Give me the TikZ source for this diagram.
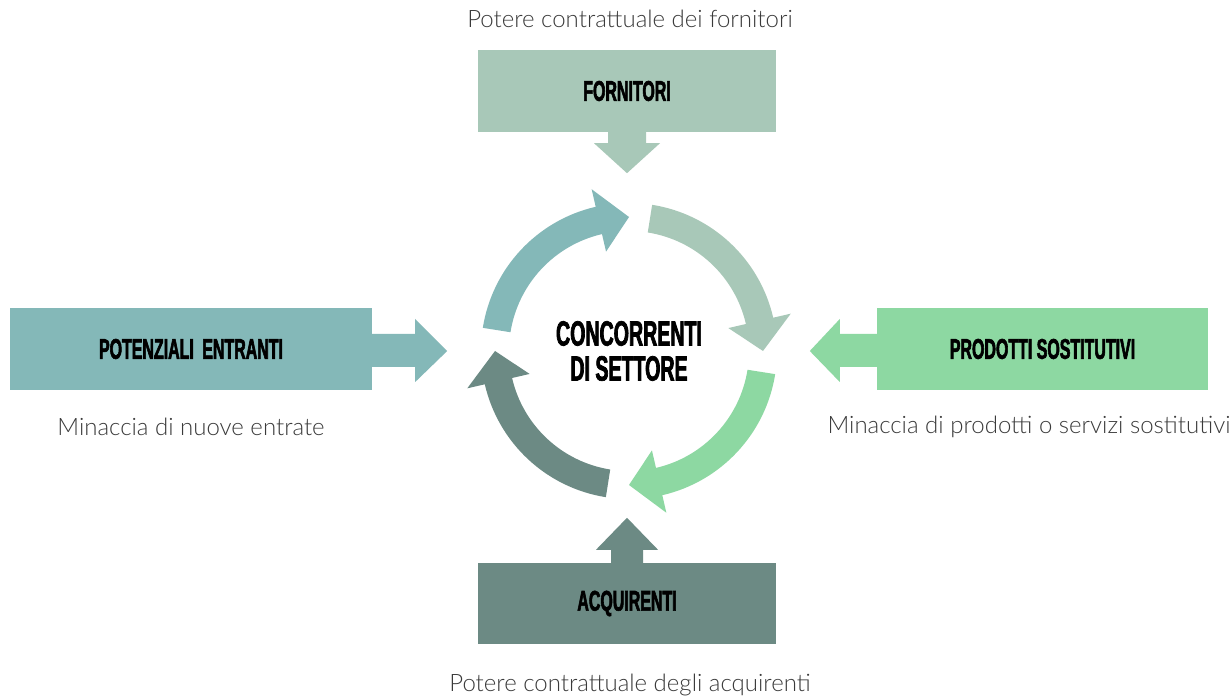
\documentclass[tikz,border=0pt]{standalone}
\usepackage{fontspec}
\usetikzlibrary{calc}
% Condensed heavy face for the box titles
\newfontfamily\titlefont{Liberation Sans}[FakeStretch=0.56,FakeBold=2]
% Thin face for the captions
\IfFontExistsTF{Lato Light}{\newfontfamily\labelfont{Lato Light}}{\newfontfamily\labelfont{Lato}}

\definecolor{tealc}{HTML}{84B8B8}
\definecolor{sagec}{HTML}{A8C8B8}
\definecolor{greenc}{HTML}{8DD8A2}
\definecolor{slatec}{HTML}{6C8A84}
\definecolor{capc}{HTML}{3A3A3A}

\tikzset{
  forcebox/.style={rectangle, inner sep=0pt, text=black,
    font=\titlefont\bfseries\fontsize{28.5}{30}\selectfont},
  caption/.style={text=capc, inner sep=0pt, font=\labelfont\fontsize{24}{28}\selectfont},
}

\begin{document}
\begin{tikzpicture}[x=1pt,y=1pt]
\useasboundingbox (0,0) rectangle (1232,696);
\fill[white] (0,0) rectangle (1232,696);

% the four forces
\node[forcebox, fill=sagec,  minimum width=298pt, minimum height=82pt] (forn) at (627,605)   {FORNITORI};
\node[forcebox, fill=tealc,  minimum width=362pt, minimum height=82pt] (pot)  at (191,347)   {POTENZIALI\hspace{4pt} ENTRANTI};
\node[forcebox, fill=greenc, minimum width=331pt, minimum height=82pt] (prod) at (1042.5,347) {PRODOTTI SOSTITUTIVI};
\node[forcebox, fill=slatec, minimum width=298pt, minimum height=81pt] (acq)  at (627,92.5)  {ACQUIRENTI};

% captions
\node[caption] (tforn) at (630,677) {Potere contrattuale dei fornitori};
\node[caption] (tpot)  at (191,269) {Minaccia di nuove entrate};
\node[caption] (tprod) at (1029,269) {Minaccia di prodotti o servizi sostitutivi};
\node[caption] (tacq)  at (630,11) {Potere contrattuale degli acquirenti};

% centre of the rivalry cycle
\coordinate (C) at (629,345);
\node[font=\titlefont\bfseries\fontsize{35}{35}\selectfont, align=center, text=black, inner sep=0pt]
  (conc) at (C) {CONCORRENTI\\DI SETTORE};

% block arrows from each force towards the centre
\fill[sagec] ($(forn.south)+(-19,0)$) -- ++(0,-11) -- ++(-14,0) -- ($(forn.south)+(0,-41)$)
  -- ($(forn.south)+(33,-11)$) -- ++(-14,0) -- ++(0,11) -- cycle;
\fill[slatec] ($(acq.north)+(-16,0)$) -- ++(0,13) -- ++(-15,0) -- ($(acq.north)+(0,45)$)
  -- ($(acq.north)+(31,13)$) -- ++(-15,0) -- ++(0,-13) -- cycle;
\fill[tealc] ($(pot.east)+(0,15)$) -- ++(43,0) -- ++(0,15) -- ($(pot.east)+(75,-2)$)
  -- ($(pot.east)+(43,-33)$) -- ++(0,15) -- ++(-43,0) -- cycle;
\fill[greenc] ($(prod.west)+(0,15)$) -- ++(-37,0) -- ++(0,15) -- ($(prod.west)+(-67,-2)$)
  -- ($(prod.west)+(-37,-33)$) -- ++(0,15) -- ++(37,0) -- cycle;

% curved arrows of the cycle: colour and tip angle
\foreach \col/\t in {sagec/0, greenc/-90, slatec/-180, tealc/90}{
  \pgfmathsetmacro\s{\t+81}
  \pgfmathsetmacro\h{\t+13}
  \fill[\col] ($(C)+(\s:148)$) arc[start angle=\s, end angle=\h, radius=148]
    -- ($(C)+(\h:166)$) -- ($(C)+(\t:134)$) -- ($(C)+(\h:102)$) -- ($(C)+(\h:120)$)
    arc[start angle=\h, end angle=\s, radius=120] -- cycle;
}
\end{tikzpicture}
\end{document}
